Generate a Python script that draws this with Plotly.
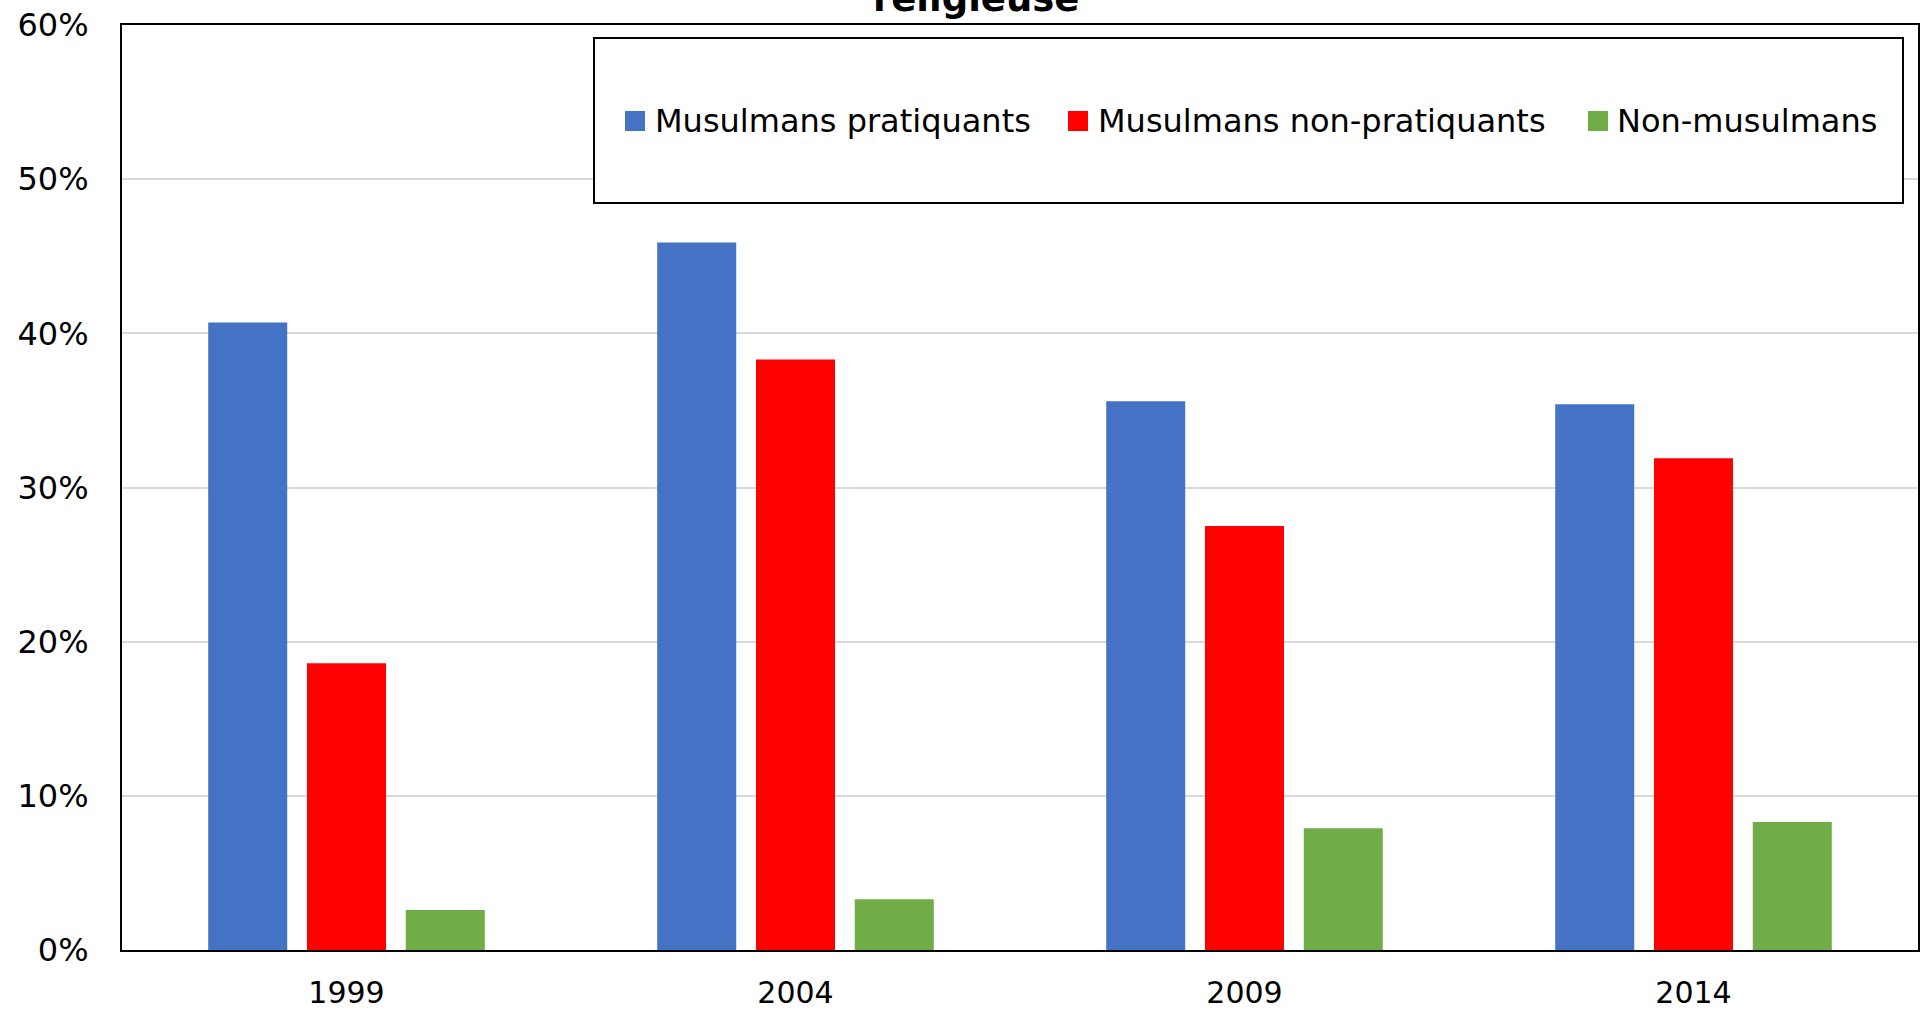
import plotly.graph_objects as go

# Survey years and shares (in %) for each group
years = ["1999", "2004", "2009", "2014"]
series_names = ["Musulmans pratiquants", "Musulmans non-pratiquants", "Non-musulmans"]
pratiquants = [40.7, 45.9, 35.6, 35.4]
non_pratiquants = [18.6, 38.3, 27.5, 31.9]
non_musulmans = [2.6, 3.3, 7.9, 8.3]
y_ticks = [0, 10, 20, 30, 40, 50, 60]
y_tick_labels = [f"{v}%" for v in y_ticks]
title_text = "religieuse"

colors = ["#4472C4", "#FF0000", "#70AD47"]
values = [pratiquants, non_pratiquants, non_musulmans]

W, H = 1921, 1011
M_L, M_R, M_T, M_B = 122, 3, 25, 61

fig = go.Figure()
for name, vals, col in zip(series_names, values, colors):
    fig.add_trace(go.Bar(
        x=years, y=vals, name=name,
        marker=dict(color=col, line=dict(width=0)),
        showlegend=False,
    ))

font_family = "DejaVu Sans, Liberation Sans, Arial"

fig.update_layout(
    width=W, height=H,
    margin=dict(l=M_L, r=M_R, t=M_T, b=M_B, pad=0),
    paper_bgcolor="white", plot_bgcolor="white",
    barmode="group", bargap=0.34, bargroupgap=0.2,
    font=dict(family=font_family, color="black"),
    xaxis=dict(
        type="category", showgrid=False, showline=True, mirror=True,
        linecolor="black", linewidth=2, ticks="",
        tickfont=dict(size=30, family=font_family, color="black"),
        ticklabelstandoff=15, automargin=False,
    ),
    yaxis=dict(
        range=[0, 60], tickmode="array", tickvals=y_ticks, ticktext=y_tick_labels,
        showgrid=True, gridcolor="#D9D9D9", gridwidth=1.5,
        showline=True, mirror=True, linecolor="black", linewidth=2,
        ticks="", zeroline=False, automargin=False,
        tickfont=dict(size=32, family=font_family, color="black"),
        ticklabelstandoff=25,
    ),
)

# Title line (partially above the page edge)
fig.add_annotation(
    text="<b>" + title_text + "</b>", xref="paper", yref="paper",
    x=(976 - M_L) / (W - M_L - M_R), y=1, xanchor="center", yanchor="bottom",
    yshift=3, showarrow=False,
    font=dict(size=37, family=font_family, color="black"),
)

# Legend box with swatches and labels, placed in pixel terms of the page
def px_x(px):
    return (px - M_L) / (W - M_L - M_R)

def px_y(py):
    return 1 - (py - M_T) / (H - M_T - M_B)

fig.add_shape(
    type="rect", xref="paper", yref="paper",
    x0=px_x(594), x1=px_x(1903), y0=px_y(203), y1=px_y(38),
    line=dict(color="black", width=2), fillcolor="white", layer="above",
)

swatch_left = [625, 1068, 1588]
label_left = [653, 1096, 1615]
legend_cy = 121
sw = 20
for name, col, sx, lx in zip(series_names, colors, swatch_left, label_left):
    fig.add_shape(
        type="rect", xref="paper", yref="paper",
        x0=px_x(sx), x1=px_x(sx + sw),
        y0=px_y(legend_cy + sw / 2), y1=px_y(legend_cy - sw / 2),
        line=dict(width=0), fillcolor=col, layer="above",
    )
    fig.add_annotation(
        text=name, xref="paper", yref="paper",
        x=px_x(lx), y=px_y(legend_cy), xanchor="left", yanchor="middle",
        showarrow=False, font=dict(size=32, family=font_family, color="black"),
    )

fig.write_html("out.html")
